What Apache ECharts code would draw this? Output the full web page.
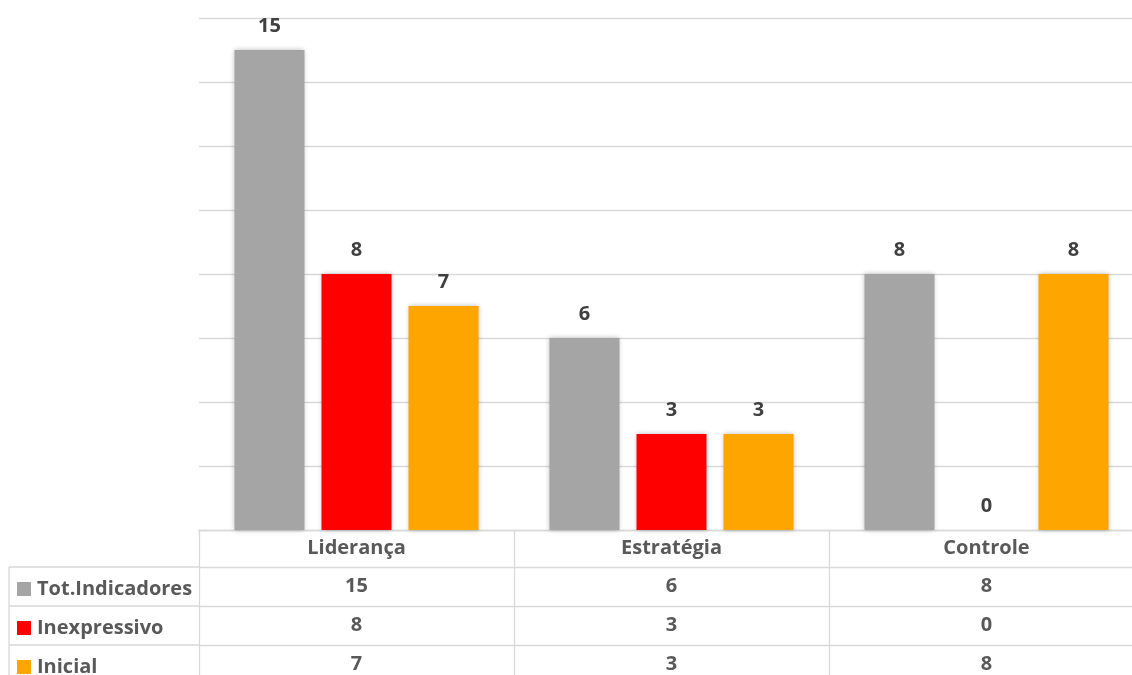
<!DOCTYPE html>
<html>
<head>
<meta charset="utf-8">
<script src="https://cdn.jsdelivr.net/npm/echarts@6/dist/echarts.min.js"></script>
<style>
  html, body { margin: 0; padding: 0; background: #fff; }
  #chart { width: 1132px; height: 675px; }
</style>
</head>
<body>
<div id="chart"></div>
<script>
// Categories and series values
const categories = ['Liderança', 'Estratégia', 'Controle'];
const seriesNames = ['Tot.Indicadores', 'Inexpressivo', 'Inicial'];
const totIndicadores = [15, 6, 8];
const inexpressivo = [8, 3, 0];
const inicial = [7, 3, 8];
const seriesValues = [totIndicadores, inexpressivo, inicial];
const seriesColors = ['#A5A5A5', '#FF0000', '#FFA500'];

// Layout of the plot and its data table
const plotLeft = 199, plotTop = 18, plotWidth = 945, plotHeight = 512;
const headerH = 37, rowH = 39, tableLeft = 9;
const plotBottom = plotTop + plotHeight;
const gridColor = '#D9D9D9';
const fontFamily = '"Open Sans", sans-serif';
const textSize = 20;

const chart = echarts.init(document.getElementById('chart'));

// One extra x axis per table row; its labels are the row's values
const rowAxes = seriesValues.map((vals, i) => ({
  type: 'category',
  data: categories,
  position: 'bottom',
  offset: headerH + i * rowH,
  axisLine: { show: true, lineStyle: { color: gridColor, width: 1.3 } },
  axisTick: { show: false },
  splitLine: { show: false },
  axisLabel: {
    verticalAlign: 'middle',
    margin: rowH / 2,
    fontFamily, fontWeight: 'bold', fontSize: textSize, color: '#595959',
    formatter: (v, idx) => String(vals[idx])
  }
}));

// Left column labels of the table: one legend per row
const legends = seriesNames.map((name, i) => ({
  data: [{ name, icon: 'rect' }],
  left: tableLeft + 8,
  top: plotBottom + headerH + i * rowH + rowH / 2 - 7.5,
  padding: 0,
  itemWidth: 14, itemHeight: 14, itemGap: 0,
  selectedMode: false,
  textStyle: { fontFamily, fontWeight: 'bold', fontSize: textSize, color: '#595959', lineHeight: 14, padding: [0, 0, 0, 1] }
}));

// Table borders of the left column
const tableBottom = 675;
const lines = [];
for (let i = 0; i < 3; i++) {
  const y = plotBottom + headerH + i * rowH;
  lines.push({ type: 'line', shape: { x1: tableLeft, y1: y, x2: plotLeft, y2: y },
    style: { stroke: gridColor, lineWidth: 1.3 } });
}
lines.push({ type: 'line', shape: { x1: tableLeft, y1: plotBottom + headerH, x2: tableLeft, y2: tableBottom },
  style: { stroke: gridColor, lineWidth: 1.3 } });

chart.setOption({
  animation: false,
  backgroundColor: '#fff',
  legend: legends,
  graphic: lines,
  grid: { left: plotLeft, top: plotTop, width: plotWidth, height: plotHeight, outerBoundsMode: 'none', containLabel: false },
  xAxis: [{
    type: 'category',
    data: categories,
    boundaryGap: true,
    axisLine: { show: true, lineStyle: { color: gridColor, width: 1.3 } },
    axisTick: { show: true, length: 150, lineStyle: { color: gridColor, width: 1.3 } },
    axisLabel: {
      verticalAlign: 'middle', margin: headerH / 2,
      fontFamily, fontWeight: 'bold', fontSize: textSize, color: '#595959'
    }
  }].concat(rowAxes),
  yAxis: {
    type: 'value', min: 0, max: 16, interval: 2,
    axisLine: { show: false }, axisTick: { show: false }, axisLabel: { show: false },
    splitLine: { lineStyle: { color: gridColor, width: 1.3 } }
  },
  series: seriesNames.map((name, i) => ({
    name, type: 'bar',
    data: seriesValues[i],
    barWidth: 70,
    barGap: '24.3%',
    itemStyle: {
      color: seriesColors[i],
      shadowBlur: 5, shadowColor: 'rgba(0,0,0,0.28)', shadowOffsetX: 0, shadowOffsetY: 0
    },
    label: {
      show: true, position: 'top', distance: 14,
      fontFamily, fontWeight: 'bold', fontSize: textSize, color: '#404040'
    }
  }))
});
</script>
</body>
</html>
